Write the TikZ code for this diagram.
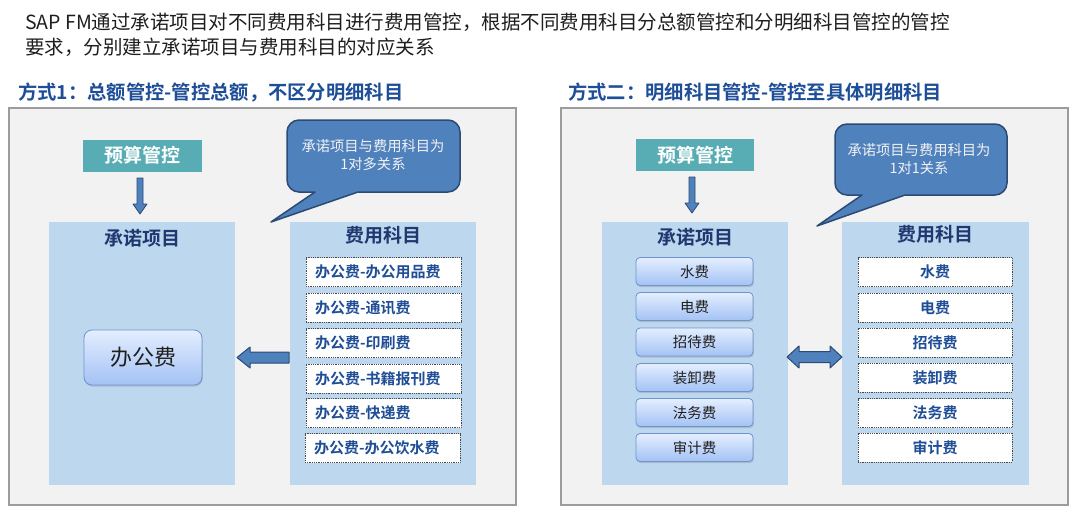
\documentclass[tikz,border=0pt]{standalone}
\usepackage{fontspec}
\setmainfont{Noto Sans CJK SC}[BoldFont={Noto Sans CJK SC Bold}]
\usetikzlibrary{shadows}
\definecolor{introtxt}{HTML}{1E1E1E}
\definecolor{headblue}{HTML}{1F4E99}
\definecolor{navy}{HTML}{1F3870}
\definecolor{itemblue}{HTML}{1F4E96}
\definecolor{panelfill}{HTML}{F2F2F2}
\definecolor{panelline}{HTML}{9C9C9C}
\definecolor{colfill}{HTML}{BDD7EE}
\definecolor{tealfill}{HTML}{58ADB4}
\definecolor{calfill}{HTML}{4F81BD}
\definecolor{calline}{HTML}{2C4A74}
\definecolor{gtop}{HTML}{E4EEFF}
\definecolor{gbot}{HTML}{A3C2F4}
\definecolor{gline}{HTML}{6D94CF}
\definecolor{dotline}{HTML}{4A4A4A}
\begin{document}
\begin{tikzpicture}[x=1pt,y=-1pt,
  panel/.style={fill=panelfill,draw=panelline,line width=1.6pt},
  column/.style={fill=colfill,draw=none},
  tealbox/.style={fill=tealfill,draw=none,inner sep=0pt,minimum height=32pt,
    text=white,font=\bfseries\fontsize{19}{22}\selectfont},
  coltitle/.style={inner sep=0pt,text=navy,font=\bfseries\fontsize{19}{22}\selectfont},
  header/.style={anchor=base west,inner sep=0pt,text=headblue,font=\bfseries\fontsize{19.3}{22}\selectfont},
  intro/.style={anchor=base west,inner sep=0pt,text=introtxt,font=\fontsize{19.5}{24}\selectfont},
  callout/.style={fill=calfill,draw=calline,line width=1.5pt,line join=round},
  caltext/.style={align=center,inner sep=0pt,text=white!95!black,font=\fontsize{14.3}{18}\selectfont},
  blockarrow/.style={fill=calfill,draw=calline,line width=1pt,line join=round},
  dbox/.style={fill=white,draw=dotline,densely dotted,line width=0.8pt,minimum height=29pt,
    inner ysep=0pt,text=itemblue,font=\bfseries\fontsize{15}{18}\selectfont},
  dboxl/.style={dbox,text width=137pt,inner xsep=9pt,align=left},
  dboxc/.style={dbox,minimum width=154pt,inner xsep=0pt},
  gbox/.style={rounded corners=4pt,draw=gline,line width=0.8pt,top color=gtop,bottom color=gbot,
    drop shadow={shadow xshift=0.8pt,shadow yshift=-1.6pt,opacity=0.3},
    inner sep=0pt,text=black!88},
  gsmall/.style={gbox,minimum width=117pt,minimum height=28pt,font=\fontsize{14.5}{17}\selectfont},
]
\useasboundingbox (0,0) rectangle (1080,517);
\fill[white] (0,0) rectangle (1080,517);

% intro text
\node[intro] (intro1) at (25,29.4) {SAP FM通过承诺项目对不同费用科目进行费用管控，根据不同费用科目分总额管控和分明细科目管控的管控};
\node[intro] (intro2) at (25,54.4) {要求，分别建立承诺项目与费用科目的对应关系};

% headers
\node[header] (head1) at (18,99.3) {方式1：总额管控-管控总额，不区分明细科目};
\node[header] (head2) at (568,99.3) {方式二：明细科目管控-管控至具体明细科目};

% ================= left panel =================
\draw[panel] (9,108) rectangle (516,505);
\fill[column] (49,222) rectangle (235,485);
\fill[column] (290,222) rectangle (476,485);

\node[tealbox,minimum width=119pt] (budL) at (142.5,155.5) {预算管控};
\draw[blockarrow,line width=0.8pt] (137,178) -- (143,178) -- (143,204) -- (147,204) -- (140,214) -- (133,204) -- (137,204) -- cycle;

\node[coltitle] (cL) at (142,238) {承诺项目};
\node[coltitle] (fL) at (383,235) {费用科目};

\node[gbox,minimum width=118pt,minimum height=55pt,rounded corners=8pt,font=\fontsize{22}{26}\selectfont] (office) at (143,357.5) {办公费};

\node[dboxl] (l1) at (383.5,272) {办公费-办公用品费};
\node[dboxl] (l2) at (383.5,307.5) {办公费-通讯费};
\node[dboxl] (l3) at (383.5,343) {办公费-印刷费};
\node[dboxl] (l4) at (383.5,378.5) {办公费-书籍报刊费};
\node[dboxl] (l5) at (383.5,413) {办公费-快递费};
\node[dboxl] (l6) at (382.5,448) {办公费-办公饮水费};

\draw[blockarrow] (289,352) -- (250,352) -- (250,347) -- (237,357.5) -- (250,368) -- (250,363) -- (289,363) -- cycle;

\draw[callout] (299,120) -- (448,120) .. controls (454.6,120) and (460,125.4) .. (460,132)
  -- (460,180) .. controls (460,186.6) and (454.6,192) .. (448,192)
  -- (358,192) -- (271,222) -- (315,192)
  -- (299,192) .. controls (292.4,192) and (287,186.6) .. (287,180)
  -- (287,132) .. controls (287,125.4) and (292.4,120) .. (299,120) -- cycle;
\node[caltext] (calL) at (373,155) {承诺项目与费用科目为\\1对多关系};

% ================= right panel =================
\draw[panel] (561,108) rectangle (1068,505);
\fill[column] (602,222) rectangle (788,485);
\fill[column] (842,222) rectangle (1029,485);

\node[tealbox,minimum width=118pt] (budR) at (695,155) {预算管控};
\draw[blockarrow,line width=0.8pt] (689,177) -- (695,177) -- (695,203) -- (699,203) -- (692,213) -- (685,203) -- (689,203) -- cycle;

\node[coltitle] (cR) at (695,237) {承诺项目};
\node[coltitle] (fR) at (935.5,234) {费用科目};

\node[gsmall] (c1) at (694.5,271.5) {水费};
\node[gsmall] (c2) at (694.5,306.5) {电费};
\node[gsmall] (c3) at (694.5,342) {招待费};
\node[gsmall] (c4) at (694.5,377.5) {装卸费};
\node[gsmall] (c5) at (694.5,412.5) {法务费};
\node[gsmall] (c6) at (694.5,447.5) {审计费};

\node[dboxc] (r1) at (935,272) {水费};
\node[dboxc] (r2) at (935,307.5) {电费};
\node[dboxc] (r3) at (935,342.5) {招待费};
\node[dboxc] (r4) at (935,377.5) {装卸费};
\node[dboxc] (r5) at (935,413) {法务费};
\node[dboxc] (r6) at (935,447.5) {审计费};

\draw[blockarrow] (787,357) -- (799,346) -- (799,351.5) -- (830,351.5) -- (830,346) -- (842,357)
  -- (830,368) -- (830,362.5) -- (799,362.5) -- (799,368) -- cycle;

\draw[callout] (847,124) -- (995,124) .. controls (1001.6,124) and (1007,129.4) .. (1007,136)
  -- (1007,183) .. controls (1007,189.6) and (1001.6,195) .. (995,195)
  -- (905,195) -- (817,226) -- (862,195)
  -- (847,195) .. controls (840.4,195) and (835,189.6) .. (835,183)
  -- (835,136) .. controls (835,129.4) and (840.4,124) .. (847,124) -- cycle;
\node[caltext] (calR) at (919,159.5) {承诺项目与费用科目为\\1对1关系};
\end{tikzpicture}
\end{document}
